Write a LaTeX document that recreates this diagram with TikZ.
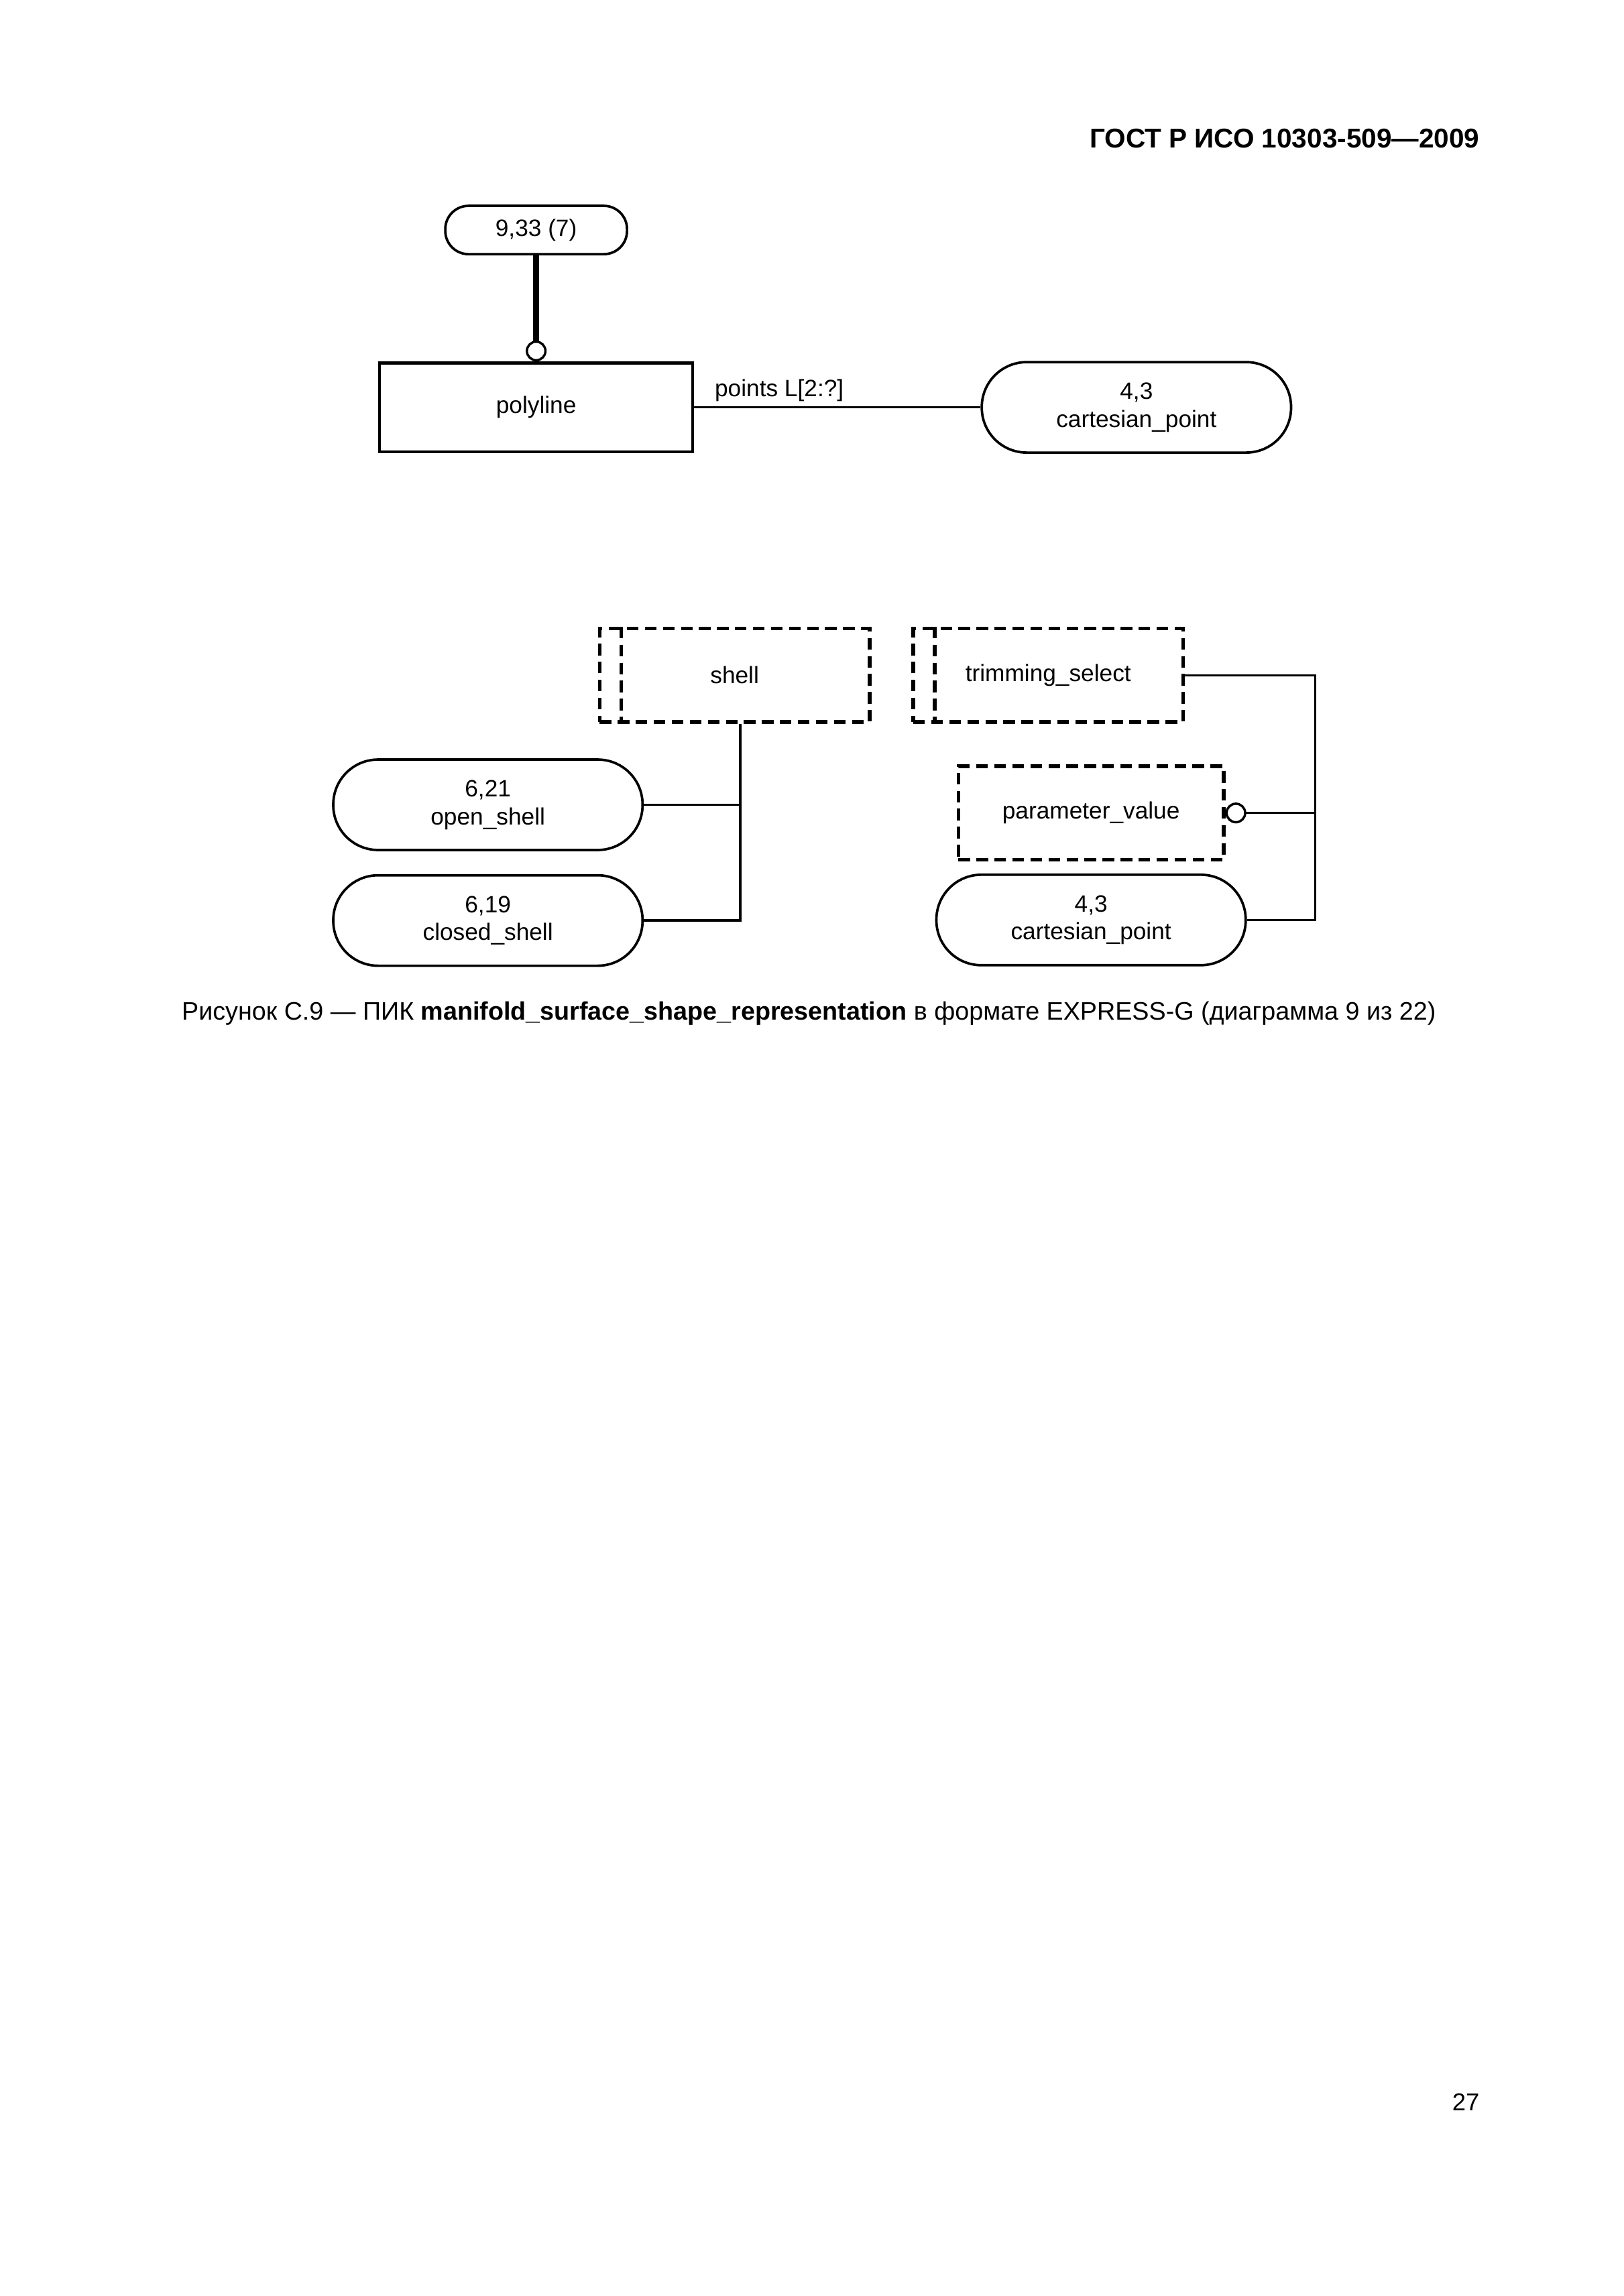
\documentclass[tikz,border=0pt]{standalone}
\usepackage{fontspec}
\setmainfont{Liberation Sans}
\usetikzlibrary{positioning,arrows.meta}

\newcommand{\egfont}{\fontsize{8.7}{10.3}\selectfont}

\begin{document}
\begin{tikzpicture}[x=1mm,y=-1mm,font=\egfont,
    entity/.style={draw,line width=0.38mm,minimum width=40.5mm,minimum height=11.5mm},
    refent/.style={draw,line width=0.32mm,rounded corners=5.8mm,minimum width=40mm,minimum height=11.7mm,align=center},
    pageref/.style={draw,line width=0.32mm,rounded corners=3mm,minimum width=23.5mm,minimum height=6.25mm},
    seltype/.style={draw,line width=0.46mm,dash pattern=on 1.5mm off 0.83mm,minimum width=34.9mm,minimum height=12.1mm},
    conn/.style={line width=0.3mm},
    oend/.style={-{Circle[open,length=2.7mm,width=2.7mm,line width=0.3mm]}}]
    \fill[white] (0,0) rectangle (210,297);
    \useasboundingbox (0,0) rectangle (210,297);

    \node[anchor=east,inner sep=0,font=\bfseries\fontsize{10}{12}\selectfont] (hdr) at (191.4,17.95) {ГОСТ Р ИСО 10303-509—2009};

    \node[pageref] (pg) at (69.34,29.75) {9,33 (7)};
    \node[entity]  (poly) at (69.34,52.69) {polyline};
    \node[refent]  (cp1) at (146.97,52.69) {4,3\\cartesian\_point};

    \draw[line width=0.72mm,oend] (pg) -- (poly);
    \draw[conn] (poly) -- (cp1);
    \node[anchor=base west,inner sep=0] (pts) at ([xshift=2.6mm,yshift=1.4mm]poly.east) {points L[2:?]};

    \node[seltype] (shell) at (95.01,87.34) {shell};
    \node[seltype] (trim) at (135.56,87.34) {trimming\_select};
    \foreach \n in {shell,trim}
        \draw[line width=0.46mm,dash pattern=on 1.5mm off 0.83mm] ([xshift=3mm]\n.north west) -- ([xshift=3mm]\n.south west);
    \node[refent]  (open) at (63.1,104.1) {6,21\\open\_shell};
    \node[refent]  (closed) [below=2.95mm of open] {6,19\\closed\_shell};
    \node[seltype,minimum width=34.3mm] (param) at (141.1,105.16) {parameter\_value};
    \node[refent]  (cp2) at (141.1,119.0) {4,3\\cartesian\_point};

    \coordinate (sj) at (95.75,87.34);
    \coordinate (rj) at (170.1,87.34);
    \draw[conn] (sj |- shell.south) -- (sj |- closed.east) -- (closed.east);
    \draw[conn] (open.east) -- (sj |- open.east);
    \draw[conn] (trim.east) -- (rj) -- (rj |- cp2.east) -- (cp2.east);
    \draw[conn,oend] (rj |- param.east) -- (param.east);

    \node[font=\fontsize{9.3}{11}\selectfont] (cap) at (104.6,131.1) {Рисунок С.9 — ПИК \textbf{manifold\_surface\_shape\_representation} в формате EXPRESS-G (диаграмма 9 из 22)};
    \node[anchor=east,inner sep=0,font=\fontsize{9}{11}\selectfont] (pgno) at (191.4,271.9) {27};
\end{tikzpicture}
\end{document}
